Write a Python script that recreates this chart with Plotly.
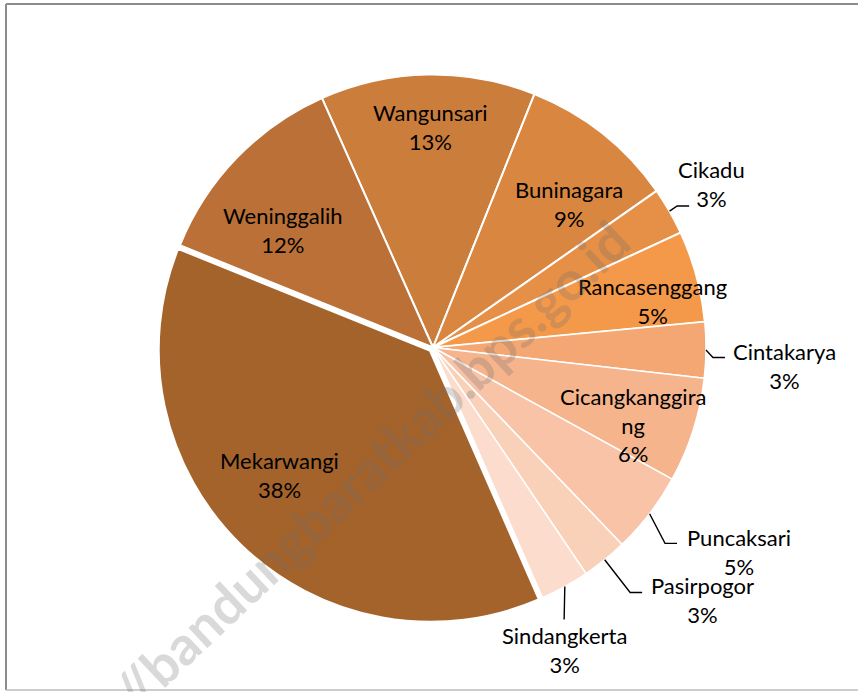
import math
import plotly.graph_objects as go

W, H = 858, 692

# ---- data ----
labels = ["Wangunsari", "Buninagara", "Cikadu", "Rancasenggang", "Cintakarya",
          "Cicangkanggirang", "Puncaksari", "Pasirpogor", "Sindangkerta",
          "Mekarwangi", "Weninggalih"]
values = [12.7, 9.2, 2.8, 5.4, 3.3, 6.2, 4.8, 2.7, 2.9, 37.6, 12.2]
display_names = ["Wangunsari", "Buninagara", "Cikadu", "Rancasenggang", "Cintakarya",
                 "Cicangkanggira<br>ng", "Puncaksari", "Pasirpogor", "Sindangkerta",
                 "Mekarwangi", "Weninggalih"]

# ---- style ----
colors = ["#CB7D3C", "#D98641", "#E68F46", "#F4994A", "#F4A772",
          "#F6B48D", "#F8C3A6", "#F9D0B8", "#FBDCCD", "#A5632C", "#BA7036"]
pulls = [0, 0, 0, 0, 0, 0, 0, 0, 0, 0.012, 0]
line_w = [2, 2, 2, 2, 1.5, 1.5, 1.5, 1.5, 1.5, 4, 2]
start_angle = -24.0
# label placement: radius factor and angle offset (deg) relative to slice middle
lab_r = [0.806, 0.725, 1.182, 0.82, 1.291, 0.786, 1.349, 1.353, 1.206, 0.731, 0.699]
lab_da = [0.3, 5.0, -0.5, 3.3, 2.4, 3.6, -3.7, -7.8, 5.4, 6.3, -5.8]
# leader: offset of leader end from label centre (px) and elbow length
leader = [None, None, (-22, 22, 12), None, (-60, -8, 12), None,
          (-62, -9, 12), (-60, -8, 12), (0, -30, 0), None, None]

FONT = "Lato, 'Open Sans', sans-serif"
FS = 22

cx, cy, R = 433.0, 347.5, 273.0
pmax = max(pulls)
half = R * (1 + pmax)
dom_x = [(cx - half) / W, (cx + half) / W]
dom_y = [1 - (cy + half) / H, 1 - (cy - half) / H]

fig = go.Figure(go.Pie(
    labels=labels, values=values, sort=False, direction="clockwise",
    rotation=start_angle, pull=pulls, textinfo="none", hoverinfo="label+percent",
    marker=dict(colors=colors, line=dict(color="white", width=line_w)),
    domain=dict(x=dom_x, y=dom_y), showlegend=False,
))


def px2paper(x, y):
    return x / W, 1 - y / H


total = sum(values)
ang = start_angle
annotations = []
shapes = []
for i, v in enumerate(values):
    span = v / total * 360.0
    mid = ang + span / 2
    ang += span
    th = math.radians(mid + lab_da[i])
    lx = cx + lab_r[i] * R * math.sin(th)
    ly = cy - lab_r[i] * R * math.cos(th)
    pct = round(v / total * 100)
    ax, ay = px2paper(lx, ly)
    annotations.append(dict(
        x=ax, y=ay, xref="paper", yref="paper", showarrow=False,
        text=f"{display_names[i]}<br>{pct}%", xanchor="center", yanchor="middle",
        font=dict(family=FONT, size=FS, color="#000000"), align="center"))
    if leader[i] is not None:
        dx, dy, el = leader[i]
        tm = math.radians(mid)
        p0 = (cx + R * math.sin(tm), cy - R * math.cos(tm))
        p2 = (lx + dx, ly + dy)
        p1 = (p2[0] - el, p2[1])
        pts = [px2paper(*p) for p in (p0, p1, p2)]
        path = "M {} {} L {} {} L {} {}".format(pts[0][0], pts[0][1], pts[1][0], pts[1][1],
                                             pts[2][0], pts[2][1])
        shapes.append(dict(type="path", path=path, xref="paper", yref="paper",
                           line=dict(color="#000000", width=1.4)))

# frame lines
shapes += [
    dict(type="line", xref="paper", yref="paper", x0=6 / W, x1=1.01, y0=1 - 4 / H, y1=1 - 4 / H,
         line=dict(color="#8c8c8c", width=2)),
    dict(type="line", xref="paper", yref="paper", x0=6 / W, x1=6 / W, y0=1 - 4 / H, y1=1 - 690 / H,
         line=dict(color="#8c8c8c", width=2)),
    dict(type="line", xref="paper", yref="paper", x0=6 / W, x1=1.01, y0=1 - 690 / H, y1=1 - 690 / H,
         line=dict(color="#bdbdbd", width=1.5)),
]

# watermark
wx, wy = px2paper(320, 513)
annotations.append(dict(
    x=wx, y=wy, xref="paper", yref="paper", showarrow=False,
    text="<b>https://bandungbaratkab.bps.go.id</b>", textangle=-43.3,
    font=dict(family=FONT, size=54, color="rgba(110,110,110,0.26)"),
    xanchor="center", yanchor="middle"))

fig.update_layout(
    width=W, height=H, autosize=False,
    margin=dict(l=0, r=0, t=0, b=0),
    paper_bgcolor="white", plot_bgcolor="white",
    annotations=annotations, shapes=shapes,
)

fig.write_html("out.html", config={"displayModeBar": False},
               post_script="document.body.style.margin='0';document.body.style.overflow='hidden';")
